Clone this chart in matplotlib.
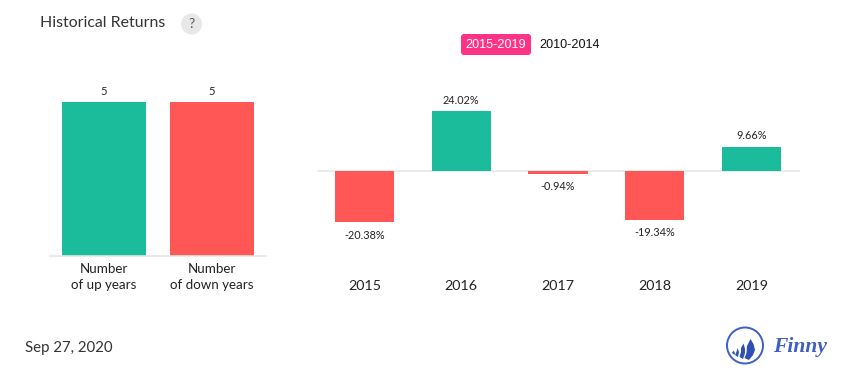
#!/usr/bin/env python3

import matplotlib
matplotlib.use('Agg')
import matplotlib.pyplot as plt
from matplotlib.patches import Circle, FancyBboxPatch, Polygon

plt.rcParams['font.family'] = ['Lato', 'DejaVu Sans']

count_labels = ['Number\nof up years', 'Number\nof down years']
count_values = [5, 5]
count_colors = ['#1abc9c', '#ff5656']

years = ['2015', '2016', '2017', '2018', '2019']
returns = [-20.38, 24.02, -0.94, -19.34, 9.66]

W, H = 855, 382
GREEN, RED = '#1abc9c', '#ff5656'
GRID = '#e6e6e6'
DARK = '#333333'


def px_axes(fig, x0, y0, x1, y1):
    # pixel box, y measured from the top
    return fig.add_axes([x0 / W, 1 - y1 / H, (x1 - x0) / W, (y1 - y0) / H])


fig = plt.figure(figsize=(W / 100, H / 100), dpi=100)

# left chart
ax = px_axes(fig, 50, 102, 266, 255.5)
ax.bar(range(2), count_values, width=0.778, color=count_colors)
ax.set_xlim(-0.5, 1.5)
ax.set_ylim(0, 5)
for i, v in enumerate(count_values):
    ax.annotate(str(v), (i, v), xytext=(0, 3.5), textcoords='offset points',
                ha='center', va='bottom', fontsize=8, color='#222222')
ax.set_xticks(range(2))
ax.set_xticklabels(count_labels, fontsize=9.6, color='#222222', linespacing=1.35)
ax.tick_params(axis='x', length=0, pad=5.5)
ax.set_yticks([])
for s in ['top', 'left', 'right']:
    ax.spines[s].set_visible(False)
ax.spines['bottom'].set_color(GRID)
ax.spines['bottom'].set_linewidth(1.2)
ax.patch.set_alpha(0)

# right chart, a little wider than the gridline on the left
ax2 = px_axes(fig, 316, 101.7, 800, 254.7)
colors = [GREEN if r > 0 else RED for r in returns]
ax2.bar(range(5), returns, width=0.61, color=colors, zorder=3)
ax2.set_xlim(-0.5, 4.5)
ax2.set_ylim(-33.4, 27.8)
ax2.axhline(0, xmin=2 / 484, color=GRID, lw=1.2, zorder=2)
for i, r in enumerate(returns):
    off = 4 if r > 0 else -5.5
    ax2.annotate('%.2f%%' % r, (i, r), xytext=(0, off), textcoords='offset points',
                 ha='center', va='bottom' if r > 0 else 'top',
                 fontsize=7.8, color='#222222')
ax2.set_xticks(range(5))
ax2.set_xticklabels(years, fontsize=10.3, color='#222222')
ax2.tick_params(axis='x', length=0, pad=18)
ax2.set_yticks([])
for s in ax2.spines.values():
    s.set_visible(False)
ax2.patch.set_alpha(0)

# overlay in pixel coordinates for header, buttons, footer and logo
ov = fig.add_axes([0, 0, 1, 1], zorder=5)
ov.set_xlim(0, W)
ov.set_ylim(H, 0)
ov.axis('off')
ov.patch.set_alpha(0)

ov.text(40, 23, 'Historical Returns', fontsize=11.4, color=DARK, ha='left', va='center')
ov.add_patch(Circle((191.5, 24), 10.5, color='#e8e8e8', lw=0))
ov.text(191.5, 24, '?', fontsize=10, color='#555555', ha='center', va='center')

ov.add_patch(FancyBboxPatch((461, 34), 70, 21, boxstyle='round,pad=0,rounding_size=3',
                            fc='#ff3385', ec='none', lw=0))
ov.text(496, 45, '2015-2019', family='Liberation Sans', fontsize=9.1, color='white',
        ha='center', va='center')
ov.text(570, 45, '2010-2014', family='Liberation Sans', fontsize=9.1, color='#111111',
        ha='center', va='center')

ov.text(25, 348, 'Sep 27, 2020', fontsize=10.8, color=DARK, ha='left', va='center')

# logo
BLUE = '#3f5fc4'
SAIL = '#2f4fb4'
ov.add_patch(Circle((745, 345.5), 18, fc='none', ec=BLUE, lw=1.4))
ov.add_patch(Polygon([(750.5, 339), (753.5, 344), (755, 350), (753, 355), (749, 360),
                      (744.5, 358), (746.5, 353), (747, 346)], fc=SAIL, lw=0))
ov.add_patch(Polygon([(743.5, 343.5), (745, 349), (745, 353), (743, 359), (739.5, 357),
                      (741, 352), (741, 348)], fc=SAIL, lw=0))
ov.add_patch(Polygon([(737.5, 348), (739, 352), (738, 357), (735, 355), (736.5, 352)], fc=SAIL, lw=0))
ov.add_patch(Polygon([(733.5, 350.5), (735, 353), (734.5, 355), (732, 353)], fc=SAIL, lw=0))
ov.text(773, 347, 'Finny', family='Liberation Serif', style='italic', weight='bold',
        fontsize=15.5, color=BLUE, ha='left', va='center')

fig.savefig('out.png', dpi=100)
